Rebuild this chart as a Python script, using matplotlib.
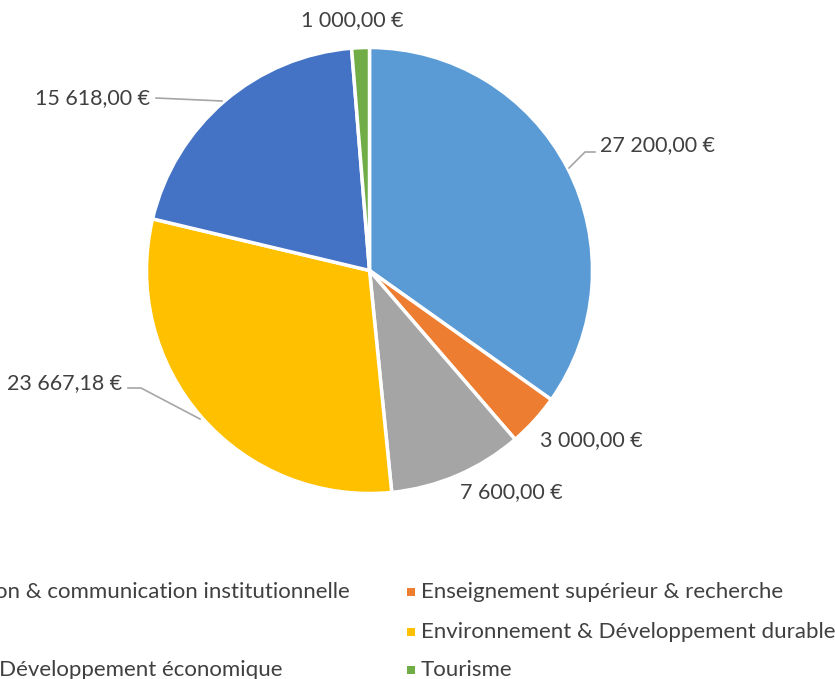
import matplotlib
matplotlib.use("Agg")
import matplotlib.pyplot as plt
from matplotlib.patches import Rectangle

plt.rcParams["font.family"] = ["Lato", "DejaVu Sans"]

# données
categories = [
    "Information & communication institutionnelle",
    "Enseignement supérieur & recherche",
    "Sport",
    "Environnement & Développement durable",
    "Emploi & Développement économique",
    "Tourisme",
]
values = [27200.00, 3000.00, 7600.00, 23667.18, 15618.00, 1000.00]
colors = ["#5B9BD5", "#ED7D31", "#A5A5A5", "#FFC000", "#4472C4", "#70AD47"]

TXT = "#404040"
W, H = 835, 679
cx, cy, R = 369.5, 270.5, 223
FS_LAB = 15.5
FS_LEG = 16


def fmt(v):
    return f"{v:,.2f}".replace(",", " ").replace(".", ",") + " €"


def to_data(px, py):
    return (px - cx) / R, (cy - py) / R


fig = plt.figure(figsize=(W / 100, H / 100), dpi=100)
ax = fig.add_axes([(cx - R) / W, (H - cy - R) / H, 2 * R / W, 2 * R / H])

ax.pie(values, colors=colors, startangle=90, counterclock=False, radius=1,
       wedgeprops=dict(edgecolor="white", linewidth=2.5))
ax.set_xlim(-1, 1)
ax.set_ylim(-1, 1)
ax.axis("off")

# étiquettes de données (position en pixels, alignement)
label_pos = [
    (600, 145, "left"),
    (540, 440, "left"),
    (460, 492, "left"),
    (122, 383, "right"),
    (150, 98, "right"),
    (352, 20, "center"),
]
for v, (px, py, ha) in zip(values, label_pos):
    x, y = to_data(px, py)
    ax.text(x, y, fmt(v), ha=ha, va="center", fontsize=FS_LAB, color=TXT, clip_on=False)

# lignes de repère
leaders = [
    [(569, 168), (585, 152), (595, 152)],
    [(128, 388), (141, 388), (200, 419)],
    [(156, 98), (222, 101)],
]
for pts in leaders:
    xs, ys = zip(*[to_data(p, q) for p, q in pts])
    ax.plot(xs, ys, color="#A6A6A6", lw=1.2, clip_on=False)

# légende (coupée à gauche comme l'original)
rows_y = [592, 632, 670]
right_x = 421
fig.canvas.draw()
renderer = fig.canvas.get_renderer()
t0 = fig.text(0, 0, categories[0], fontsize=FS_LEG)
w0 = t0.get_window_extent(renderer).width
t0.remove()
left_x = 350 - w0

for i, cat in enumerate(categories):
    row, col = divmod(i, 2)
    tx = left_x if col == 0 else right_x
    ty = rows_y[row]
    fig.text(tx / W, 1 - ty / H, cat, ha="left", va="center", fontsize=FS_LEG, color=TXT)
    fig.patches.append(Rectangle(((tx - 14) / W, 1 - (ty + 4) / H), 8 / W, 8 / H,
                                 transform=fig.transFigure, facecolor=colors[i],
                                 edgecolor="none"))

fig.savefig("out.png", dpi=100)
